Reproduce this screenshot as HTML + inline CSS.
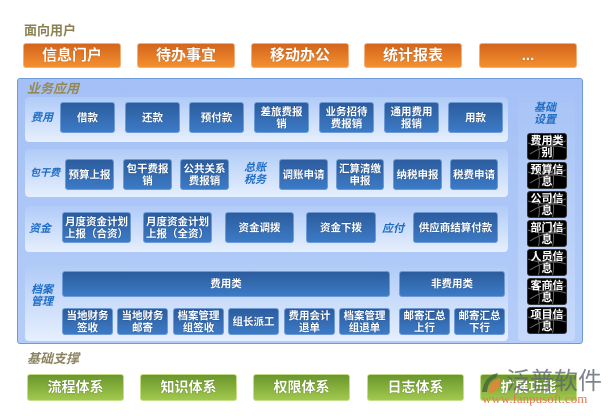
<!DOCTYPE html>
<html><head><meta charset="utf-8"><style>
*{margin:0;padding:0;box-sizing:border-box}
body{width:610px;height:416px;background:#fff;position:relative;overflow:hidden;font-family:"Liberation Sans","Noto Sans CJK SC",sans-serif}
.a{position:absolute}
.h{font-weight:bold;font-size:13px;color:#8a8052;line-height:14px}
.ob{position:absolute;top:43px;width:98px;height:25px;border-radius:3px;background:linear-gradient(#d4651d,#f4902f);border:1px solid #f3b07a;color:#fff;font-weight:bold;font-size:15px;text-align:center;line-height:23px;text-shadow:0 0 1px #9a4a10}
.gb{position:absolute;top:374px;width:97px;height:27px;border-radius:3px;background:linear-gradient(#6a962b,#a2c94e);border:1px solid #c3dd88;color:#fff;font-weight:bold;font-size:14px;text-align:center;line-height:25px;text-shadow:0 0 1px #3d5a10}
.panel{left:17px;top:78px;width:566px;height:266px;border:1px solid #6f9bd9;border-radius:3px;background:linear-gradient(#a4c0f6,#b4cdf8)}
.band{position:absolute;left:25px;width:483px;border-radius:4px;background:linear-gradient(#b0cbf8,#e6effd)}
.bb{position:absolute;border-radius:3px;background:linear-gradient(#2c5c9e,#3c7bc6);border:1px solid #6b9ad6;color:#fff;font-weight:bold;font-size:10.5px;text-align:center;display:flex;align-items:center;justify-content:center;line-height:12px;text-shadow:0 0 1px #1a3a6a}
.lb{position:absolute;color:#1f6dc4;font-weight:bold;font-style:italic;font-size:11px;line-height:12px;text-align:center}
.k{position:absolute;left:527px;width:40px;height:27px;border-radius:3px;background:#000;border:1px solid #333;color:#fff;font-weight:bold;font-size:11px;line-height:12px;text-align:center;display:flex;align-items:center;justify-content:center;overflow:hidden}
.k svg{position:absolute;left:0;top:0}
.k span{position:relative}
</style></head><body>
<div class="a h" style="left:24px;top:24px">面向用户</div>
<div class="ob" style="left:23px">信息门户</div>
<div class="ob" style="left:137px">待办事宜</div>
<div class="ob" style="left:251px">移动办公</div>
<div class="ob" style="left:364px">统计报表</div>
<div class="ob" style="left:479px">...</div>

<div class="a panel"></div>
<div class="a h" style="left:27px;top:82px;font-style:italic;color:#968852">业务应用</div>

<div class="band" style="top:97px;height:45px"></div>
<div class="band" style="top:149px;height:48px"></div>
<div class="band" style="top:206px;height:46px"></div>
<div class="band" style="top:265px;height:76px"></div>
<div class="a" style="left:518px;top:97px;width:57px;height:244px;border-radius:4px;background:linear-gradient(#a8c4f6,#c6d9fb)"></div>

<div class="lb" style="left:31px;top:112px">费用</div>
<div class="bb" style="left:60px;top:102px;width:55px;height:31px">借款</div>
<div class="bb" style="left:125px;top:102px;width:55px;height:31px">还款</div>
<div class="bb" style="left:189px;top:102px;width:55px;height:31px">预付款</div>
<div class="bb" style="left:254px;top:102px;width:55px;height:31px">差旅费报<br>销</div>
<div class="bb" style="left:319px;top:102px;width:55px;height:31px">业务招待<br>费报销</div>
<div class="bb" style="left:384px;top:102px;width:55px;height:31px">通用费用<br>报销</div>
<div class="bb" style="left:448px;top:102px;width:55px;height:31px">用款</div>

<div class="lb" style="left:30px;top:168px;font-size:10px">包干费</div>
<div class="bb" style="left:65px;top:159px;width:49px;height:31px">预算上报</div>
<div class="bb" style="left:123px;top:159px;width:49px;height:31px">包干费报<br>销</div>
<div class="bb" style="left:180px;top:159px;width:49px;height:31px">公共关系<br>费报销</div>
<div class="lb" style="left:244px;top:162px">总账<br>税务</div>
<div class="bb" style="left:279px;top:159px;width:49px;height:31px">调账申请</div>
<div class="bb" style="left:336px;top:159px;width:48px;height:31px">汇算清缴<br>申报</div>
<div class="bb" style="left:393px;top:159px;width:49px;height:31px">纳税申报</div>
<div class="bb" style="left:450px;top:159px;width:48px;height:31px">税费申请</div>

<div class="lb" style="left:29px;top:223px">资金</div>
<div class="bb" style="left:62px;top:212px;width:69px;height:31px">月度资金计划<br>上报（合资）</div>
<div class="bb" style="left:143px;top:212px;width:69px;height:31px">月度资金计划<br>上报（全资）</div>
<div class="bb" style="left:225px;top:212px;width:69px;height:31px">资金调拨</div>
<div class="bb" style="left:306px;top:212px;width:70px;height:31px">资金下拨</div>
<div class="lb" style="left:382px;top:223px">应付</div>
<div class="bb" style="left:413px;top:212px;width:85px;height:31px">供应商结算付款</div>

<div class="lb" style="left:31px;top:284px">档案<br>管理</div>
<div class="bb" style="left:62px;top:271px;width:328px;height:26px">费用类</div>
<div class="bb" style="left:399px;top:271px;width:106px;height:26px">非费用类</div>
<div class="bb" style="left:62px;top:308px;width:51px;height:27px">当地财务<br>签收</div>
<div class="bb" style="left:117px;top:308px;width:51px;height:27px">当地财务<br>邮寄</div>
<div class="bb" style="left:173px;top:308px;width:51px;height:27px">档案管理<br>组签收</div>
<div class="bb" style="left:228px;top:308px;width:51px;height:27px">组长派工</div>
<div class="bb" style="left:284px;top:308px;width:51px;height:27px">费用会计<br>退单</div>
<div class="bb" style="left:339px;top:308px;width:51px;height:27px">档案管理<br>组退单</div>
<div class="bb" style="left:399px;top:308px;width:51px;height:27px">邮寄汇总<br>上行</div>
<div class="bb" style="left:454px;top:308px;width:51px;height:27px">邮寄汇总<br>下行</div>

<div class="lb" style="left:534px;top:102px">基础<br>设置</div>
<div class="k" style="top:133px"><svg width="40" height="27"><path d="M2 20 Q20 8 38 14 M6 2 Q14 14 10 27 M22 0 Q28 14 24 27 M0 9 Q18 16 40 6" stroke="#666" fill="none" stroke-width="1"/></svg><span>费用类<br>别</span></div>
<div class="k" style="top:162px"><svg width="40" height="27"><path d="M2 20 Q20 8 38 14 M6 2 Q14 14 10 27 M22 0 Q28 14 24 27 M0 9 Q18 16 40 6" stroke="#666" fill="none" stroke-width="1"/></svg><span>预算信<br>息</span></div>
<div class="k" style="top:191px"><svg width="40" height="27"><path d="M2 20 Q20 8 38 14 M6 2 Q14 14 10 27 M22 0 Q28 14 24 27 M0 9 Q18 16 40 6" stroke="#666" fill="none" stroke-width="1"/></svg><span>公司信<br>息</span></div>
<div class="k" style="top:220px"><svg width="40" height="27"><path d="M2 20 Q20 8 38 14 M6 2 Q14 14 10 27 M22 0 Q28 14 24 27 M0 9 Q18 16 40 6" stroke="#666" fill="none" stroke-width="1"/></svg><span>部门信<br>息</span></div>
<div class="k" style="top:249px"><svg width="40" height="27"><path d="M2 20 Q20 8 38 14 M6 2 Q14 14 10 27 M22 0 Q28 14 24 27 M0 9 Q18 16 40 6" stroke="#666" fill="none" stroke-width="1"/></svg><span>人员信<br>息</span></div>
<div class="k" style="top:278px"><svg width="40" height="27"><path d="M2 20 Q20 8 38 14 M6 2 Q14 14 10 27 M22 0 Q28 14 24 27 M0 9 Q18 16 40 6" stroke="#666" fill="none" stroke-width="1"/></svg><span>客商信<br>息</span></div>
<div class="k" style="top:307px"><svg width="40" height="27"><path d="M2 20 Q20 8 38 14 M6 2 Q14 14 10 27 M22 0 Q28 14 24 27 M0 9 Q18 16 40 6" stroke="#666" fill="none" stroke-width="1"/></svg><span>项目信<br>息</span></div>

<div class="a h" style="left:27px;top:352px;font-style:italic;color:#8c8460">基础支撑</div>
<div class="gb" style="left:27px">流程体系</div>
<div class="gb" style="left:140px">知识体系</div>
<div class="gb" style="left:253px">权限体系</div>
<div class="gb" style="left:367px">日志体系</div>
<div class="gb" style="left:480px">扩展功能</div>

<svg class="a" style="left:480px;top:370px" width="24" height="26"><path d="M2 22 Q4 6 18 3 L16 8 Q8 10 7 22 Z" fill="#4a6a3a" opacity="0.85"/><path d="M8 22 Q10 10 20 8 Q22 18 12 23 Z" fill="#e8843a" opacity="0.85"/></svg>
<div class="a" style="left:506px;top:366px;font-size:24px;line-height:26px;color:rgba(95,100,115,0.8);font-family:'Noto Sans CJK SC',sans-serif">泛普软件</div>
<div class="a" style="left:482px;top:392px;font-size:13px;line-height:13px;color:#e07858;font-family:'Liberation Serif',serif">www.fanpusoft.com</div>
</body></html>
